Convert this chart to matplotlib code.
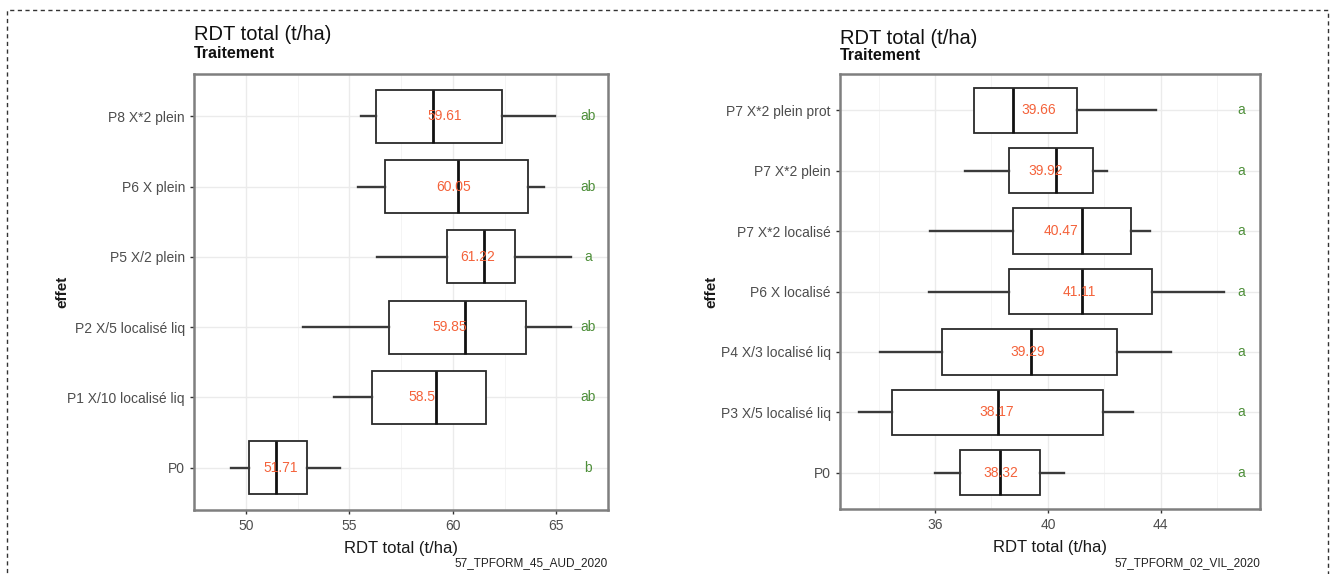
import matplotlib
matplotlib.use("Agg")
import matplotlib.pyplot as plt
from matplotlib.patches import Rectangle

plt.rcParams['font.family'] = ['Liberation Sans', 'DejaVu Sans']

# essai 1 : 57_TPFORM_45_AUD_2020
cat1 = ["P0", "P1 X/10 localisé liq", "P2 X/5 localisé liq", "P5 X/2 plein", "P6 X plein", "P8 X*2 plein"]
lo1 = [49.29, 54.25, 52.75, 56.36, 55.44, 55.58]
q1_1 = [50.17, 56.11, 56.91, 59.74, 56.71, 56.27]
med1 = [51.46, 59.17, 60.57, 61.51, 60.26, 59.03]
q3_1 = [52.98, 61.59, 63.54, 63.03, 63.62, 62.36]
hi1 = [54.56, 61.59, 65.72, 65.72, 64.40, 64.94]
mean1 = [51.71, 58.5, 59.85, 61.22, 60.05, 59.61]
let1 = ["b", "ab", "ab", "a", "ab", "ab"]
ticks1 = [50, 55, 60, 65]
minor1 = [47.5, 52.5, 57.5, 62.5, 67.5]

# essai 2 : 57_TPFORM_02_VIL_2020
cat2 = ["P0", "P3 X/5 localisé liq", "P4 X/3 localisé liq", "P6 X localisé", "P7 X*2 localisé", "P7 X*2 plein", "P7 X*2 plein prot"]
lo2 = [36.00, 33.29, 34.06, 35.80, 35.82, 37.07, 37.37]
q1_2 = [36.89, 34.46, 36.23, 38.63, 38.77, 38.61, 37.37]
med2 = [38.32, 38.24, 39.39, 41.22, 41.22, 40.28, 38.76]
q3_2 = [39.73, 41.96, 42.46, 43.70, 42.94, 41.59, 41.03]
hi2 = [40.57, 43.00, 44.37, 46.24, 43.62, 42.11, 43.83]
mean2 = [38.32, 38.17, 39.29, 41.11, 40.47, 39.92, 39.66]
let2 = ["a", "a", "a", "a", "a", "a", "a"]
ticks2 = [36, 40, 44]
minor2 = [34, 38, 42, 46]

W, H = 1330, 574
fig = plt.figure(figsize=(W / 100, H / 100), dpi=100)


def panel(rect, cats, lo, q1, med, q3, hi, means, letters, ticks, minor, xlim, letx, source, tpos):
    ax = fig.add_axes(rect)
    stats = []
    for i in range(len(cats)):
        stats.append({"whislo": lo[i], "q1": q1[i], "med": med[i], "q3": q3[i], "whishi": hi[i], "fliers": []})
    pos = list(range(1, len(cats) + 1))
    ax.bxp(stats, positions=pos, vert=False, widths=0.75, showcaps=False, patch_artist=True,
           boxprops=dict(facecolor="white", edgecolor="#2a2a2a", linewidth=1.3),
           whiskerprops=dict(color="#3a3a3a", linewidth=1.7),
           medianprops=dict(color="#111111", linewidth=2.0), zorder=3)
    for i in range(len(cats)):
        ax.text(means[i], pos[i], str(means[i]), color="#F4623A", fontsize=10, ha="center", va="center", zorder=4)
        ax.text(letx, pos[i], letters[i], color="#4E8F3A", fontsize=10, ha="center", va="center", zorder=4)
    ax.set_xlim(*xlim)
    ax.set_ylim(0.4, len(cats) + 0.6)
    ax.set_yticks(pos)
    ax.set_yticklabels(cats)
    ax.set_xticks(ticks)
    ax.set_xticklabels([str(t) for t in ticks])
    ax.set_xticks(minor, minor=True)
    ax.tick_params(axis="x", which="minor", length=0)
    ax.tick_params(which="major", length=3, width=1, color="#333333", labelcolor="#4d4d4d", labelsize=10)
    ax.grid(True, which="major", color="#ebebeb", linewidth=1.0, zorder=0)
    ax.grid(True, axis="x", which="minor", color="#f2f2f2", linewidth=0.6, zorder=0)
    ax.set_axisbelow(True)
    for s in ax.spines.values():
        s.set_color("#7f7f7f")
        s.set_linewidth(1.8)
    ax.set_xlabel("RDT total (t/ha)", fontsize=12, color="#1a1a1a", labelpad=6)
    ax.set_ylabel("effet", fontsize=11, fontweight="bold", color="#1a1a1a")
    x0 = rect[0]
    fig.text(x0, 1 - tpos[0] / H, "RDT total (t/ha)", fontsize=14.5, color="#111111", ha="left", va="center")
    fig.text(x0, 1 - tpos[1] / H, "Traitement", fontsize=11.5, fontweight="bold", color="#111111", ha="left", va="center")
    fig.text(rect[0] + rect[2], 1 - 563 / H, source, fontsize=8.5, color="#222222", ha="right", va="center")
    return ax


ax1 = panel([194 / W, 1 - 510 / H, 414 / W, 436 / H], cat1, lo1, q1_1, med1, q3_1, hi1, mean1, let1,
            ticks1, minor1, (48.41, 67.35), 66.55, "57_TPFORM_45_AUD_2020", (34, 54))
ax1.yaxis.set_label_coords(-0.30, 0.5)

ax2 = panel([840 / W, 1 - 509 / H, 420 / W, 435 / H], cat2, lo2, q1_2, med2, q3_2, hi2, mean2, let2,
            ticks2, minor2, (32.63, 47.52), 46.86, "57_TPFORM_02_VIL_2020", (38, 56))
ax2.yaxis.set_label_coords(-0.29, 0.5)

# cadre pointille
fig.patches.append(Rectangle((7 / W, -0.05), 1321 / W, 1 - 10 / H + 0.05, transform=fig.transFigure,
                             fill=False, edgecolor="#333333", linewidth=1.0, linestyle=(0, (3, 2.5))))

fig.savefig("out.png", dpi=100)
